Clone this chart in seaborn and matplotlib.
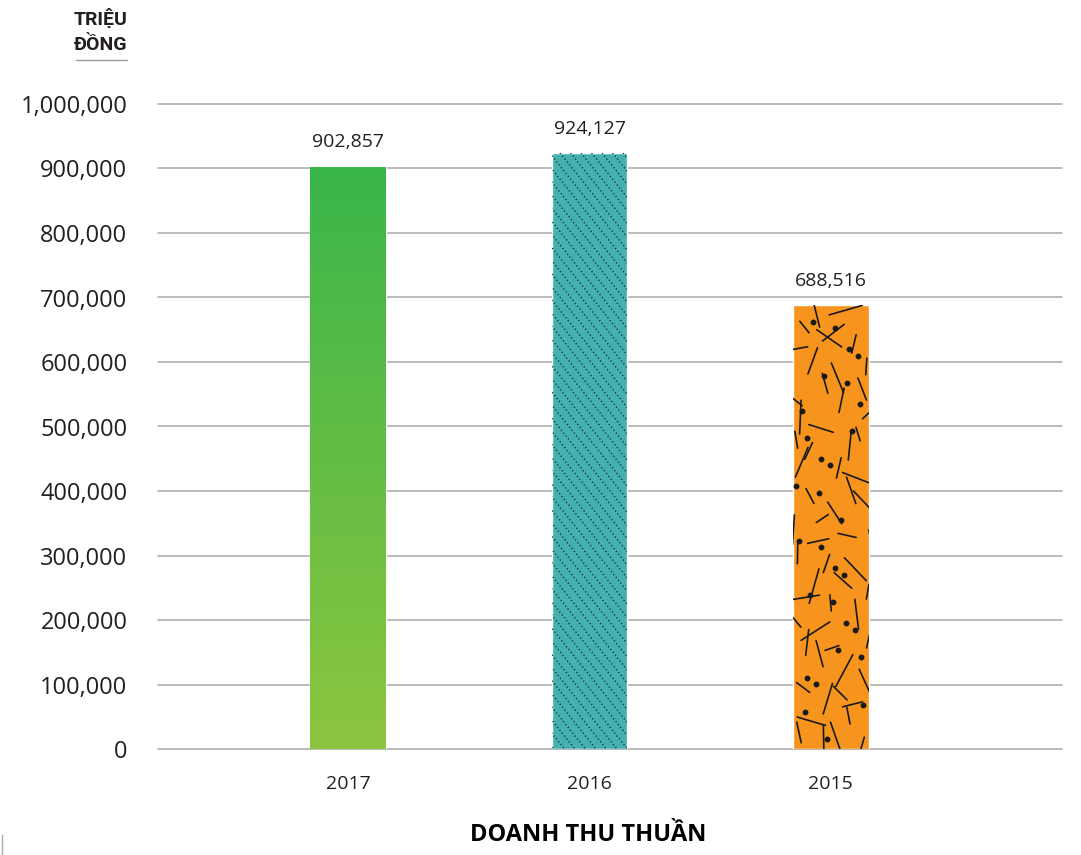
import numpy as np
import pandas as pd
import matplotlib
matplotlib.use("Agg")
import matplotlib.pyplot as plt
import seaborn as sns
from matplotlib.lines import Line2D
from matplotlib.colors import LinearSegmentedColormap

# Net revenue by year (million VND)
years = ["2017", "2016", "2015"]
revenue = [902857, 924127, 688516]
y_ticks = [0, 100000, 200000, 300000, 400000, 500000,
           600000, 700000, 800000, 900000, 1000000]
bar_colors = ["#3cb54a", "#45b0b0", "#f7941d"]
gradient_top = "#39b54a"
gradient_bottom = "#8dc63f"

sns.set_theme(style="white")
plt.rcParams["font.family"] = ["Open Sans", "DejaVu Sans"]

W, H = 1081, 855
fig = plt.figure(figsize=(W / 100, H / 100), dpi=100)
ax = fig.add_axes([158 / W, (H - 749) / H, (1062 - 158) / W, (749 - 104) / H])

df = pd.DataFrame({"year": years, "revenue": revenue})
sns.barplot(data=df, x="year", y="revenue", hue="year", order=years,
            hue_order=years, palette=bar_colors, saturation=1,
            width=0.315, legend=False, ax=ax, zorder=2)

ax.set_xlim(-0.79, 2.96)
ax.set_ylim(0, 1000000)
ax.set_yticks(y_ticks)
ax.set_yticklabels([f"{v:,}" for v in y_ticks], fontsize=17, color="#231f20")
ax.tick_params(axis="y", length=0, pad=22)
ax.tick_params(axis="x", length=0, pad=19, labelsize=14, labelcolor="#231f20")
ax.set_xlabel("")
ax.set_ylabel("")
for s in ax.spines.values():
    s.set_visible(False)
ax.yaxis.grid(True, color="#a8a8a8", lw=1.1)
ax.xaxis.grid(False)
ax.set_axisbelow(True)
for gl in ax.get_ygridlines():
    gl.set_clip_on(False)

bars = [p for p in ax.patches][:len(years)]
to_data = ax.transData.inverted()


def px_bbox(patch):
    b = patch.get_bbox()
    (x0, y0), (x1, y1) = ax.transData.transform([(b.x0, b.y0), (b.x1, b.y1)])
    return x0, y0, x1, y1


def px_line(xs, ys, patch, **kw):
    pts = to_data.transform(np.column_stack([xs, ys]))
    ln = Line2D(pts[:, 0], pts[:, 1], **kw)
    ax.add_line(ln)
    ln.set_clip_path(patch)
    return ln


def halton(i, base):
    f, r = 1.0, 0.0
    while i > 0:
        f /= base
        r += f * (i % base)
        i //= base
    return r


# 2017: vertical green gradient
b = bars[0].get_bbox()
cmap = LinearSegmentedColormap.from_list("g", [gradient_bottom, gradient_top])
grad = np.linspace(0, 1, 256).reshape(-1, 1)
im = ax.imshow(grad, cmap=cmap, origin="lower", aspect="auto",
               extent=[b.x0, b.x1, b.y0, b.y1], zorder=2.5)
im.set_clip_path(bars[0])
ax.set_xlim(-0.79, 2.96)
ax.set_ylim(0, 1000000)

# 2016: dotted diagonal stripes
x0, y0, x1, y1 = px_bbox(bars[1])
slope = 1.25  # downward drop per px to the right
step = 10.5
hgt = y1 - y0
k = x0 - hgt / slope - 2 * step
while k < x1 + step:
    xs = np.array([k, k + hgt / slope + 4 * step])
    ys = np.array([y1 + 3, y1 + 3 - (xs[1] - xs[0]) * slope])
    px_line(xs, ys, bars[1], color="#123030", lw=0.95,
            linestyle=(0, (1.0, 1.8)), zorder=3, solid_capstyle="butt")
    k += step

# 2015: scattered dashes and dots
x0, y0, x1, y1 = px_bbox(bars[2])
bw, bh = x1 - x0, y1 - y0
angles = [75, 82, 100, 106, 68, 140, 38, 15, 162, 88, 112, 130]
n_dash = int(bw * bh / 540)
for i in range(1, n_dash + 1):
    u, v = halton(i, 2), halton(i, 3)
    cx, cy = x0 - 6 + u * (bw + 12), y0 - 6 + v * (bh + 12)
    ang = angles[int(halton(i, 5) * len(angles))] + (halton(i, 7) - 0.5) * 14
    length = 14 + halton(i, 11) * 24
    dx = np.cos(np.radians(ang)) * length / 2
    dy = np.sin(np.radians(ang)) * length / 2
    px_line([cx - dx, cx + dx], [cy - dy, cy + dy], bars[2],
            color="#1a1a1a", lw=1.2, zorder=3, solid_capstyle="round")
n_dot = int(bw * bh / 1100)
for i in range(1, n_dot + 1):
    u, v = halton(i + 17, 5), halton(i + 17, 2)
    cx, cy = x0 + 3 + u * (bw - 6), y0 + 3 + v * (bh - 6)
    px_line([cx], [cy], bars[2], color="#1a1a1a", marker="o",
            markersize=3.2, lw=0, zorder=3)

# value labels
for p, val in zip(bars, revenue):
    b = p.get_bbox()
    ax.annotate(f"{val:,}", ((b.x0 + b.x1) / 2, val), xytext=(0, 11),
                textcoords="offset points", ha="center", va="bottom",
                fontsize=14, color="#231f20", annotation_clip=False)

# unit label
fig.text(127 / W, 1 - 19 / H, "TRIỆU", ha="right", va="center",
         fontsize=14, fontweight="bold", color="#231f20",
         family=["Roboto", "DejaVu Sans"])
fig.text(127 / W, 1 - 45 / H, "ĐỒNG", ha="right", va="center",
         fontsize=14, fontweight="bold", color="#231f20",
         family=["Roboto", "DejaVu Sans"])
fig.add_artist(Line2D([76 / W, 127 / W], [1 - 60 / H, 1 - 60 / H],
                      transform=fig.transFigure, color="#999999", lw=1))

# chart title
fig.text(588 / W, 1 - 835 / H, "DOANH THU THUẦN", ha="center", va="center",
         fontsize=17, fontweight="bold", color="#000000")

fig.add_artist(Line2D([2 / W, 2 / W], [0, 20 / H],
                      transform=fig.transFigure, color="#aaaaaa", lw=1))

fig.savefig("out.png", dpi=100)
